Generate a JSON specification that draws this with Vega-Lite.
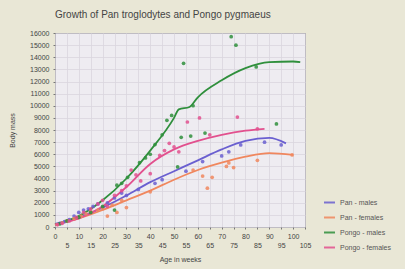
{
  "$schema": "https://vega.github.io/schema/vega-lite/v6.json",
  "autosize": "none",
  "width": 250,
  "height": 194,
  "padding": {"left": 55, "top": 33, "right": 100, "bottom": 42},
  "background": "#e9e7d6",
  "title": {"text": "Growth of Pan troglodytes and Pongo pygmaeus", "anchor": "start", "frame": "group", "fontSize": 10, "fontWeight": "normal", "font": "Liberation Sans", "color": "#444444", "offset": 9},
  "config": {
    "view": {"fill": "#eeecf1", "stroke": "#5a5a5a", "strokeWidth": 1},
    "axis": {"labelFont": "Liberation Sans", "titleFont": "Liberation Sans", "labelFontSize": 7, "titleFontSize": 7, "labelColor": "#444444", "titleColor": "#444444", "titleFontWeight": "normal", "gridColor": "#d9d5de", "gridWidth": 0.8, "domain": false, "tickColor": "#777777", "tickSize": 2}
  },
  "data": {"values": [
    {"kind": "pt", "series": "Pan - males", "age": 2, "mass": 300},
    {"kind": "pt", "series": "Pan - males", "age": 4, "mass": 450},
    {"kind": "pt", "series": "Pan - males", "age": 6, "mass": 600},
    {"kind": "pt", "series": "Pan - males", "age": 8, "mass": 900},
    {"kind": "pt", "series": "Pan - males", "age": 10, "mass": 1200},
    {"kind": "pt", "series": "Pan - males", "age": 12, "mass": 1400},
    {"kind": "pt", "series": "Pan - males", "age": 14, "mass": 1500},
    {"kind": "pt", "series": "Pan - males", "age": 16, "mass": 1700},
    {"kind": "pt", "series": "Pan - males", "age": 18, "mass": 1900},
    {"kind": "pt", "series": "Pan - males", "age": 20, "mass": 1600},
    {"kind": "pt", "series": "Pan - males", "age": 22, "mass": 2000},
    {"kind": "pt", "series": "Pan - males", "age": 25, "mass": 2400},
    {"kind": "pt", "series": "Pan - males", "age": 28, "mass": 2800},
    {"kind": "pt", "series": "Pan - males", "age": 30, "mass": 2600},
    {"kind": "pt", "series": "Pan - males", "age": 35, "mass": 3100},
    {"kind": "pt", "series": "Pan - males", "age": 42, "mass": 3600},
    {"kind": "pt", "series": "Pan - males", "age": 45, "mass": 3900},
    {"kind": "pt", "series": "Pan - males", "age": 55, "mass": 4600},
    {"kind": "pt", "series": "Pan - males", "age": 62, "mass": 5400},
    {"kind": "pt", "series": "Pan - males", "age": 70, "mass": 5860},
    {"kind": "pt", "series": "Pan - males", "age": 73, "mass": 6200},
    {"kind": "pt", "series": "Pan - males", "age": 78, "mass": 6770},
    {"kind": "pt", "series": "Pan - males", "age": 88, "mass": 7000},
    {"kind": "pt", "series": "Pan - males", "age": 95, "mass": 6770},
    {"kind": "pt", "series": "Pan - females", "age": 1, "mass": 200},
    {"kind": "pt", "series": "Pan - females", "age": 3, "mass": 350},
    {"kind": "pt", "series": "Pan - females", "age": 5, "mass": 500},
    {"kind": "pt", "series": "Pan - females", "age": 8, "mass": 700},
    {"kind": "pt", "series": "Pan - females", "age": 11, "mass": 900},
    {"kind": "pt", "series": "Pan - females", "age": 13, "mass": 1100},
    {"kind": "pt", "series": "Pan - females", "age": 15, "mass": 1300},
    {"kind": "pt", "series": "Pan - females", "age": 18, "mass": 1400},
    {"kind": "pt", "series": "Pan - females", "age": 20, "mass": 1500},
    {"kind": "pt", "series": "Pan - females", "age": 22, "mass": 900},
    {"kind": "pt", "series": "Pan - females", "age": 24, "mass": 1800},
    {"kind": "pt", "series": "Pan - females", "age": 26, "mass": 1200},
    {"kind": "pt", "series": "Pan - females", "age": 28, "mass": 2200},
    {"kind": "pt", "series": "Pan - females", "age": 30, "mass": 1600},
    {"kind": "pt", "series": "Pan - females", "age": 40, "mass": 2900},
    {"kind": "pt", "series": "Pan - females", "age": 58, "mass": 4700},
    {"kind": "pt", "series": "Pan - females", "age": 62, "mass": 4200},
    {"kind": "pt", "series": "Pan - females", "age": 64, "mass": 3200},
    {"kind": "pt", "series": "Pan - females", "age": 66, "mass": 4100},
    {"kind": "pt", "series": "Pan - females", "age": 72, "mass": 5000},
    {"kind": "pt", "series": "Pan - females", "age": 73, "mass": 5280},
    {"kind": "pt", "series": "Pan - females", "age": 75, "mass": 4900},
    {"kind": "pt", "series": "Pan - females", "age": 85, "mass": 5500},
    {"kind": "pt", "series": "Pan - females", "age": 99.6, "mass": 5940},
    {"kind": "pt", "series": "Pongo - males", "age": 2, "mass": 250},
    {"kind": "pt", "series": "Pongo - males", "age": 5, "mass": 500},
    {"kind": "pt", "series": "Pongo - males", "age": 10, "mass": 800},
    {"kind": "pt", "series": "Pongo - males", "age": 15, "mass": 1200},
    {"kind": "pt", "series": "Pongo - males", "age": 20, "mass": 1700},
    {"kind": "pt", "series": "Pongo - males", "age": 25, "mass": 1400},
    {"kind": "pt", "series": "Pongo - males", "age": 26, "mass": 3450},
    {"kind": "pt", "series": "Pongo - males", "age": 28, "mass": 3600},
    {"kind": "pt", "series": "Pongo - males", "age": 30.5, "mass": 4100},
    {"kind": "pt", "series": "Pongo - males", "age": 35.5, "mass": 5300},
    {"kind": "pt", "series": "Pongo - males", "age": 38, "mass": 5700},
    {"kind": "pt", "series": "Pongo - males", "age": 40, "mass": 6000},
    {"kind": "pt", "series": "Pongo - males", "age": 42, "mass": 6800},
    {"kind": "pt", "series": "Pongo - males", "age": 45, "mass": 7600},
    {"kind": "pt", "series": "Pongo - males", "age": 47, "mass": 8800},
    {"kind": "pt", "series": "Pongo - males", "age": 49, "mass": 9200},
    {"kind": "pt", "series": "Pongo - males", "age": 51.5, "mass": 4950},
    {"kind": "pt", "series": "Pongo - males", "age": 53, "mass": 7400},
    {"kind": "pt", "series": "Pongo - males", "age": 54, "mass": 13500},
    {"kind": "pt", "series": "Pongo - males", "age": 57, "mass": 7500},
    {"kind": "pt", "series": "Pongo - males", "age": 58, "mass": 10000},
    {"kind": "pt", "series": "Pongo - males", "age": 63, "mass": 7750},
    {"kind": "pt", "series": "Pongo - males", "age": 74, "mass": 15700},
    {"kind": "pt", "series": "Pongo - males", "age": 76, "mass": 15000},
    {"kind": "pt", "series": "Pongo - males", "age": 84.5, "mass": 13200},
    {"kind": "pt", "series": "Pongo - males", "age": 93, "mass": 8500},
    {"kind": "pt", "series": "Pongo - females", "age": 1, "mass": 200},
    {"kind": "pt", "series": "Pongo - females", "age": 3, "mass": 300},
    {"kind": "pt", "series": "Pongo - females", "age": 6, "mass": 500},
    {"kind": "pt", "series": "Pongo - females", "age": 9, "mass": 800},
    {"kind": "pt", "series": "Pongo - females", "age": 12, "mass": 1200},
    {"kind": "pt", "series": "Pongo - females", "age": 15, "mass": 1500},
    {"kind": "pt", "series": "Pongo - females", "age": 18, "mass": 1900},
    {"kind": "pt", "series": "Pongo - females", "age": 20, "mass": 2200},
    {"kind": "pt", "series": "Pongo - females", "age": 22, "mass": 1700},
    {"kind": "pt", "series": "Pongo - females", "age": 25, "mass": 2600},
    {"kind": "pt", "series": "Pongo - females", "age": 28, "mass": 3000},
    {"kind": "pt", "series": "Pongo - females", "age": 30, "mass": 3400},
    {"kind": "pt", "series": "Pongo - females", "age": 32, "mass": 4700},
    {"kind": "pt", "series": "Pongo - females", "age": 34, "mass": 4300},
    {"kind": "pt", "series": "Pongo - females", "age": 36, "mass": 3800},
    {"kind": "pt", "series": "Pongo - females", "age": 40, "mass": 4400},
    {"kind": "pt", "series": "Pongo - females", "age": 44, "mass": 5900},
    {"kind": "pt", "series": "Pongo - females", "age": 46, "mass": 6300},
    {"kind": "pt", "series": "Pongo - females", "age": 48, "mass": 6900},
    {"kind": "pt", "series": "Pongo - females", "age": 50, "mass": 6600},
    {"kind": "pt", "series": "Pongo - females", "age": 52, "mass": 6200},
    {"kind": "pt", "series": "Pongo - females", "age": 55.6, "mass": 8660},
    {"kind": "pt", "series": "Pongo - females", "age": 60.7, "mass": 9000},
    {"kind": "pt", "series": "Pongo - females", "age": 65, "mass": 7600},
    {"kind": "pt", "series": "Pongo - females", "age": 76.6, "mass": 9070},
    {"kind": "pt", "series": "Pongo - females", "age": 85, "mass": 8100},
    {"kind": "fit", "series": "Pan - males", "age": 0, "mass": 250},
    {"kind": "fit", "series": "Pan - males", "age": 10, "mass": 800},
    {"kind": "fit", "series": "Pan - males", "age": 20, "mass": 1600},
    {"kind": "fit", "series": "Pan - males", "age": 30, "mass": 2600},
    {"kind": "fit", "series": "Pan - males", "age": 40, "mass": 3700},
    {"kind": "fit", "series": "Pan - males", "age": 50, "mass": 4600},
    {"kind": "fit", "series": "Pan - males", "age": 60, "mass": 5500},
    {"kind": "fit", "series": "Pan - males", "age": 70, "mass": 6400},
    {"kind": "fit", "series": "Pan - males", "age": 80, "mass": 7100},
    {"kind": "fit", "series": "Pan - males", "age": 90, "mass": 7350},
    {"kind": "fit", "series": "Pan - males", "age": 97, "mass": 6900},
    {"kind": "fit", "series": "Pan - females", "age": 0, "mass": 200},
    {"kind": "fit", "series": "Pan - females", "age": 10, "mass": 700},
    {"kind": "fit", "series": "Pan - females", "age": 20, "mass": 1400},
    {"kind": "fit", "series": "Pan - females", "age": 30, "mass": 2200},
    {"kind": "fit", "series": "Pan - females", "age": 40, "mass": 3000},
    {"kind": "fit", "series": "Pan - females", "age": 50, "mass": 3900},
    {"kind": "fit", "series": "Pan - females", "age": 60, "mass": 4700},
    {"kind": "fit", "series": "Pan - females", "age": 70, "mass": 5300},
    {"kind": "fit", "series": "Pan - females", "age": 80, "mass": 5800},
    {"kind": "fit", "series": "Pan - females", "age": 90, "mass": 6100},
    {"kind": "fit", "series": "Pan - females", "age": 100, "mass": 5950},
    {"kind": "fit", "series": "Pongo - males", "age": 0, "mass": 200},
    {"kind": "fit", "series": "Pongo - males", "age": 10, "mass": 900},
    {"kind": "fit", "series": "Pongo - males", "age": 20, "mass": 2200},
    {"kind": "fit", "series": "Pongo - males", "age": 30, "mass": 4000},
    {"kind": "fit", "series": "Pongo - males", "age": 40, "mass": 6300},
    {"kind": "fit", "series": "Pongo - males", "age": 50, "mass": 9000},
    {"kind": "fit", "series": "Pongo - males", "age": 52, "mass": 9700},
    {"kind": "fit", "series": "Pongo - males", "age": 56.5, "mass": 9900},
    {"kind": "fit", "series": "Pongo - males", "age": 60, "mass": 10700},
    {"kind": "fit", "series": "Pongo - males", "age": 70, "mass": 12100},
    {"kind": "fit", "series": "Pongo - males", "age": 80, "mass": 13100},
    {"kind": "fit", "series": "Pongo - males", "age": 90, "mass": 13600},
    {"kind": "fit", "series": "Pongo - males", "age": 100, "mass": 13650},
    {"kind": "fit", "series": "Pongo - males", "age": 103, "mass": 13600},
    {"kind": "fit", "series": "Pongo - females", "age": 0, "mass": 200},
    {"kind": "fit", "series": "Pongo - females", "age": 10, "mass": 700},
    {"kind": "fit", "series": "Pongo - females", "age": 20, "mass": 1700},
    {"kind": "fit", "series": "Pongo - females", "age": 30, "mass": 3300},
    {"kind": "fit", "series": "Pongo - females", "age": 40, "mass": 5200},
    {"kind": "fit", "series": "Pongo - females", "age": 50, "mass": 6400},
    {"kind": "fit", "series": "Pongo - females", "age": 60, "mass": 7100},
    {"kind": "fit", "series": "Pongo - females", "age": 70, "mass": 7600},
    {"kind": "fit", "series": "Pongo - females", "age": 80, "mass": 7950},
    {"kind": "fit", "series": "Pongo - females", "age": 88, "mass": 8100}
  ]},
  "encoding": {
    "y": {"field": "mass", "type": "quantitative", "scale": {"domain": [0, 16000], "nice": false},
      "axis": {"title": "Body mass", "values": [0,1000,2000,3000,4000,5000,6000,7000,8000,9000,10000,11000,12000,13000,14000,15000,16000], "format": "d", "labelPadding": 4, "titlePadding": 14, "labelOverlap": false}},
    "color": {"field": "series", "type": "nominal",
      "scale": {"domain": ["Pan - males", "Pan - females", "Pongo - males", "Pongo - females"], "range": ["#6a5fd0", "#f0875e", "#2f8f3c", "#e2508e"]},
      "legend": {"title": null, "orient": "none", "legendX": 268, "legendY": 163, "symbolType": "stroke", "symbolStrokeWidth": 2, "symbolSize": 120, "labelFont": "Liberation Sans", "labelFontSize": 7, "labelColor": "#555555", "rowPadding": 4}}
  },
  "resolve": {"axis": {"x": "independent"}},
  "layer": [
    {"transform": [{"filter": "datum.kind === 'fit'"}], "mark": {"type": "line", "interpolate": "monotone", "strokeWidth": 1.8},
      "encoding": {"x": {"field": "age", "type": "quantitative", "scale": {"domain": [0, 105], "nice": false, "zero": false},
        "axis": {"orient": "bottom", "title": "Age in weeks", "values": [0,5,10,15,20,25,30,35,40,45,50,55,60,65,70,75,80,85,90,95,100,105], "labelExpr": "datum.value % 10 === 0 ? datum.label : ''", "labelPadding": 3, "titlePadding": 16, "labelFlush": false, "labelOverlap": false}}}},
    {"transform": [{"filter": "datum.kind === 'pt'"}], "mark": {"type": "point", "filled": true, "size": 14, "opacity": 0.85},
      "encoding": {"x": {"field": "age", "type": "quantitative",
        "axis": {"orient": "bottom", "title": null, "grid": false, "ticks": false, "values": [5,15,25,35,45,55,65,75,85,95,105], "labelPadding": 14, "labelFlush": false, "labelOverlap": false}}}}
  ]
}
